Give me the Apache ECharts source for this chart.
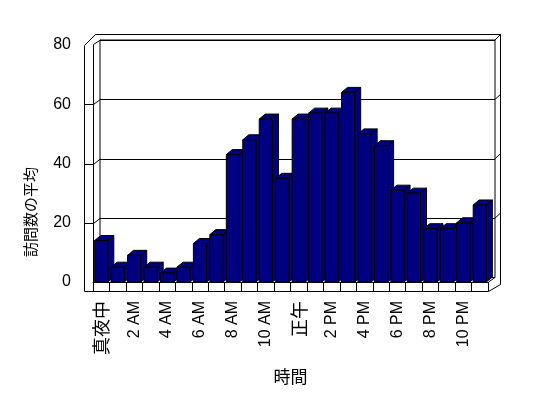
<!DOCTYPE html>
<html>
<head>
<meta charset="utf-8">
<script src="https://cdn.jsdelivr.net/npm/echarts@6/dist/echarts.min.js"></script>
<style>
  html, body { margin: 0; background: #fff; }
  #chart { width: 548px; height: 398px; }
</style>
</head>
<body>
<div id="chart"></div>
<script>
const hours = [
    '真夜中', '1 AM', '2 AM', '3 AM', '4 AM', '5 AM', '6 AM', '7 AM', '8 AM', '9 AM', '10 AM', '11 AM',
    '正午', '1 PM', '2 PM', '3 PM', '4 PM', '5 PM', '6 PM', '7 PM', '8 PM', '9 PM', '10 PM', '11 PM'
];
const visits = [14, 5, 9, 5, 3, 5, 13, 16, 43, 48, 55, 35, 55, 57, 57, 64, 50, 46, 31, 30, 18, 18, 20, 26];
const yTicks = [0, 20, 40, 60, 80];

const xName = '時間';
const yName = '訪問数の平均';

const LATIN = '"Liberation Sans", Arial, sans-serif';
const CJK = '"Noto Sans CJK JP", "Liberation Sans", sans-serif';
const BAR_FILL = '#000080';
const DEPTH = [6, -5];        // oblique offset of a bar's top/side faces

const chart = echarts.init(document.getElementById('chart'), null, { renderer: 'canvas' });

function renderBar(params, api) {
    const top  = api.coord([api.value(0), api.value(1)]);
    const base = api.coord([api.value(0), 0]);
    const bw = api.size([1, 0])[0] * 0.8;
    const l = top[0] - bw / 2, r = top[0] + bw / 2;
    const [dx, dy] = DEPTH;
    const style = { fill: BAR_FILL, stroke: '#000', lineWidth: 1 };
    return {
        type: 'group',
        children: [
            { type: 'polygon', shape: { points: [[r, top[1]], [r + dx, top[1] + dy], [r + dx, base[1] + dy], [r, base[1]]] }, style },
            { type: 'polygon', shape: { points: [[l, top[1]], [l + dx, top[1] + dy], [r + dx, top[1] + dy], [r, top[1]]] }, style },
            { type: 'rect', shape: { x: l, y: top[1], width: bw, height: base[1] - top[1] }, style },
        ],
    };
}

// CJK hour names are set a bit larger than the latin ones, as in the original
const hasCjk = s => /[\u3000-\u9fff]/.test(s);

chart.setOption({
    animation: false,
    backgroundColor: '#fff',
    grid: [
        // back wall
        { left: 100, top: 40, width: 395, height: 237.5, show: true, borderColor: '#000', borderWidth: 1 },
        // front plane (bars, labels)
        { left: 93, top: 45, width: 395, height: 237 },
    ],
    xAxis: [
        { gridIndex: 0, type: 'category', data: hours, show: false },
        {
            gridIndex: 1, type: 'category', data: hours,
            name: xName, nameLocation: 'middle', nameGap: 86,
            nameTextStyle: { fontFamily: CJK, fontSize: 17, color: '#000' },
            axisLine: { lineStyle: { color: '#000', width: 1 } },
            axisTick: { show: true, interval: 0, length: 9, lineStyle: { color: '#000' } },
            axisLabel: {
                interval: 1, rotate: 90, margin: 19, fontFamily: LATIN, fontSize: 16, color: '#000',
                formatter: v => hasCjk(v) ? `{j|${v}}` : v,
                rich: { j: { fontFamily: CJK, fontSize: 18, color: '#000' } },
            },
        },
    ],
    yAxis: [
        {
            gridIndex: 0, type: 'value', min: 0, max: 80, interval: 20,
            axisLine: { show: false }, axisTick: { show: false }, axisLabel: { show: false },
            splitLine: { lineStyle: { color: '#000', width: 1 } },
        },
        {
            gridIndex: 1, type: 'value', min: 0, max: 80, interval: 20,
            axisLine: { show: false }, axisTick: { show: false }, splitLine: { show: false },
            axisLabel: { margin: 22, fontFamily: LATIN, fontSize: 16, color: '#000' },
        },
    ],
    series: [{
        type: 'custom',
        xAxisIndex: 1, yAxisIndex: 1,
        renderItem: renderBar,
        data: visits.map((v, i) => [i, v]),
        z: 5,
    }],
});

// frame of the 3D box, placed from the two value axes
const yf = v => chart.convertToPixel({ yAxisIndex: 1 }, v);
const yb = v => chart.convertToPixel({ yAxisIndex: 0 }, v);
const line = pts => ({ type: 'polyline', z: 20, shape: { points: pts }, style: { stroke: '#000', lineWidth: 1, fill: null } });

const graphics = [
    { type: 'polygon', z: 20, shape: { points: [[84.5, yf(80) + 0.5], [95.5, 34.5], [500.5, 34.5], [500.5, 284.5], [488.5, 291.5], [84.5, 291.5]] },
      style: { stroke: '#000', lineWidth: 1, fill: null } },
    line([[93.5, yf(80) - 0.5], [93.5, yf(0)]]),
    line([[93.5, yf(80) - 0.5], [100.5, yb(80)]]),
    line([[495, yb(80)], [500.5, 34.5]]),
    line([[488.5, yf(0)], [495, yb(0)]]),
    // y axis title, sitting low beside the value labels
    { type: 'text', z: 20, x: 30, y: 212, rotation: Math.PI / 2,
      style: { text: yName, font: `15px ${CJK}`, fill: '#000', align: 'center', verticalAlign: 'middle' } },
];
yTicks.filter(v => v > 0 && v < 80).forEach(v => {
    graphics.push(line([[84.5, Math.round(yf(v)) + 0.5], [93.5, Math.round(yf(v)) + 0.5], [100.5, yb(v)]]));
    graphics.push(line([[495, yb(v)], [500.5, yb(v) - 5]]));
});
chart.setOption({ graphic: graphics });
</script>
</body>
</html>
